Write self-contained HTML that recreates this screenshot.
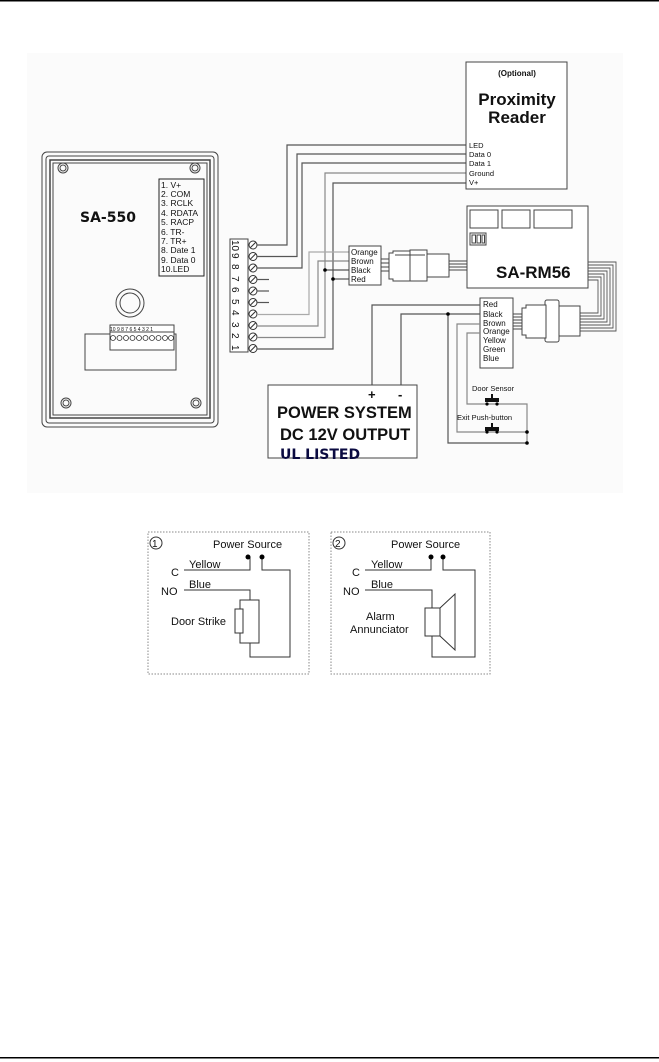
<!DOCTYPE html>
<html><head><meta charset="utf-8"><style>
html,body{margin:0;padding:0;background:#fff;}
svg{display:block;}
text{font-family:"Liberation Sans",sans-serif;fill:#111;}
</style></head><body>
<svg width="659" height="1062" viewBox="0 0 659 1062" xmlns="http://www.w3.org/2000/svg">
<rect x="0" y="0" width="659" height="1.5" fill="#000"/>
<rect x="0" y="1057" width="659" height="1.5" fill="#000"/>
<rect x="27" y="53" width="596" height="440" fill="#fbfbfb"/>
<g fill="none" stroke="#444" stroke-width="1">
<rect x="42" y="152" width="176" height="275" rx="5"/>
<rect x="46" y="156" width="168" height="267" rx="3"/>
<rect x="50" y="160" width="160" height="258" stroke-width="1.5"/>
<rect x="53" y="163" width="154" height="252"/>
<circle cx="63" cy="168" r="5"/><circle cx="63" cy="168" r="3"/>
<circle cx="195" cy="168" r="5"/><circle cx="195" cy="168" r="3"/>
<circle cx="66" cy="403" r="5"/><circle cx="66" cy="403" r="3"/>
<circle cx="196" cy="403" r="5"/><circle cx="196" cy="403" r="3"/>
<rect x="159" y="179" width="45" height="97" stroke="#222"/>
<circle cx="130" cy="303" r="14"/><circle cx="130" cy="303" r="10"/>
<rect x="85" y="334" width="91" height="36"/>
<rect x="110" y="325" width="64" height="25" fill="#fff"/>
<line x1="110" y1="332" x2="174" y2="332"/>
</g>
<g fill="none" stroke="#333" stroke-width="0.8">
<circle cx="113" cy="338" r="2.5"/><circle cx="119.5" cy="338" r="2.5"/><circle cx="126" cy="338" r="2.5"/><circle cx="132.5" cy="338" r="2.5"/><circle cx="139" cy="338" r="2.5"/><circle cx="145.5" cy="338" r="2.5"/><circle cx="152" cy="338" r="2.5"/><circle cx="158.5" cy="338" r="2.5"/><circle cx="165" cy="338" r="2.5"/><circle cx="171" cy="338" r="2.5"/>
</g>
<text x="110" y="331" font-size="5">10 9 8 7 6 5 4 3 2 1</text>
<text x="80" y="222" font-size="14" font-weight="bold" style="font-family:'DejaVu Sans',sans-serif">SA-550</text>
<g font-size="8.5">
<text x="161" y="188">1.  V+</text><text x="161" y="197">2.  COM</text><text x="161" y="206">3.  RCLK</text><text x="161" y="216">4.  RDATA</text><text x="161" y="225">5.  RACP</text><text x="161" y="235">6.  TR-</text><text x="161" y="244">7.  TR+</text><text x="161" y="253">8.  Date 1</text><text x="161" y="263">9.  Data 0</text><text x="161" y="272">10.LED</text>
</g>
<rect x="230" y="239" width="18" height="113" fill="#fff" stroke="#444"/>
<g font-size="10" transform="rotate(90)">
<text x="240" y="-232">10</text><text x="253" y="-232">9</text><text x="264" y="-232">8</text><text x="276" y="-232">7</text><text x="287" y="-232">6</text><text x="299" y="-232">5</text><text x="310" y="-232">4</text><text x="322" y="-232">3</text><text x="333" y="-232">2</text><text x="345" y="-232">1</text>
</g>
<g fill="#fff" stroke="#333" stroke-width="1">
<g id="sc"><circle cx="253" cy="245" r="4"/><line x1="250" y1="248" x2="256" y2="242"/></g>
<use href="#sc" y="11.5"/><use href="#sc" y="23"/><use href="#sc" y="34.5"/><use href="#sc" y="46"/><use href="#sc" y="57.5"/><use href="#sc" y="69"/><use href="#sc" y="80.5"/><use href="#sc" y="92"/><use href="#sc" y="103.5"/>
</g>
<g fill="none" stroke="#555" stroke-width="1.2">
<polyline points="257,245 287,245 287,145 466,145"/>
<polyline points="257,256.5 297,256.5 297,154 466,154"/>
<polyline points="257,268 302,268 302,163 466,163"/>
<polyline points="257,337.5 325,337.5 325,173 466,173" stroke="#888"/>
<polyline points="257,349 333,349 333,183 466,183"/>
<polyline points="257,326 318,326 318,261 349,261" stroke="#888"/>
<polyline points="257,314.5 309,314.5 309,252 349,252" stroke="#aaa"/>
<line x1="257" y1="279.5" x2="269" y2="279.5"/><line x1="257" y1="291" x2="269" y2="291"/><line x1="257" y1="302.5" x2="269" y2="302.5"/>
<line x1="325" y1="270" x2="349" y2="270"/><line x1="333" y1="279" x2="349" y2="279"/>
</g>
<circle cx="325" cy="270" r="1.8" fill="#000"/><circle cx="333" cy="279" r="1.8" fill="#000"/>
<rect x="349" y="246" width="32" height="39" fill="#fff" stroke="#444"/>
<g font-size="8"><text x="351" y="255">Orange</text><text x="351" y="264">Brown</text><text x="351" y="273">Black</text><text x="351" y="282">Red</text></g>
<g stroke="#444" fill="none">
<line x1="381" y1="259" x2="390" y2="259"/><line x1="381" y1="263" x2="390" y2="263"/><line x1="381" y1="267" x2="390" y2="267"/><line x1="381" y1="271" x2="390" y2="271"/>
<path d="M389,253 h4 v-2 h20 v30 h-20 v-2 h-4 z" fill="#fff"/>
<rect x="410" y="250" width="17" height="31" fill="#fff"/>
<line x1="395" y1="255" x2="425" y2="255"/>
<rect x="427" y="254" width="22" height="23" fill="#fff"/>
<line x1="449" y1="261" x2="467" y2="261"/><line x1="449" y1="264" x2="467" y2="264"/><line x1="449" y1="267" x2="467" y2="267"/><line x1="449" y1="270" x2="467" y2="270"/>
</g>
<rect x="466" y="62" width="101" height="127" fill="#fff" stroke="#444"/>
<text x="517" y="76" font-size="8" font-weight="bold" text-anchor="middle">(Optional)</text>
<text x="517" y="105" font-size="17" font-weight="bold" text-anchor="middle">Proximity</text>
<text x="517" y="123" font-size="17" font-weight="bold" text-anchor="middle">Reader</text>
<g font-size="7.5"><text x="469" y="148">LED</text><text x="469" y="157">Data 0</text><text x="469" y="166">Data 1</text><text x="469" y="176">Ground</text><text x="469" y="185">V+</text></g>
<rect x="467" y="206" width="121" height="82" fill="#fff" stroke="#444"/>
<g fill="none" stroke="#444"><rect x="470" y="210" width="28" height="18"/><rect x="502" y="210" width="28" height="18"/><rect x="534" y="210" width="38" height="18"/><rect x="470" y="233" width="16" height="12"/><rect x="472" y="235" width="3.5" height="8"/><rect x="477" y="235" width="3.5" height="8"/><rect x="482" y="235" width="2.5" height="8"/></g>
<text x="496" y="278" font-size="17" font-weight="bold">SA-RM56</text>
<g fill="none" stroke="#555" stroke-width="0.9">
<polyline points="588,262 616,262 616,331 580,331"/>
<polyline points="588,265 613,265 613,328 580,328"/>
<polyline points="588,268 610,268 610,325 580,325"/>
<polyline points="588,271 607,271 607,322 580,322"/>
<polyline points="588,274 604,274 604,319 580,319"/>
<polyline points="588,277 601,277 601,316 580,316"/>
<polyline points="588,280 598,280 598,313 580,313"/>
</g>
<g stroke="#444" fill="#fff">
<rect x="558" y="306" width="22" height="30"/>
<rect x="545" y="300" width="14" height="42" rx="2"/>
<path d="M522,308 h4 v-3 h20 v33 h-20 v-3 h-4 z"/>
<g fill="none"><line x1="513" y1="314" x2="522" y2="314"/><line x1="513" y1="317" x2="522" y2="317"/><line x1="513" y1="320" x2="522" y2="320"/><line x1="513" y1="323" x2="522" y2="323"/><line x1="513" y1="326" x2="522" y2="326"/><line x1="513" y1="329" x2="522" y2="329"/></g>
</g>
<rect x="480" y="298" width="33" height="70" fill="#fff" stroke="#444"/>
<g font-size="8"><text x="483" y="307">Red</text><text x="483" y="317">Black</text><text x="483" y="326">Brown</text><text x="483" y="334">Orange</text><text x="483" y="343">Yellow</text><text x="483" y="352">Green</text><text x="483" y="361">Blue</text></g>
<g fill="none" stroke="#555" stroke-width="1.2">
<polyline points="480,305 372,305 372,385"/>
<polyline points="480,314 401,314 401,385"/>
<polyline points="448,314 448,443 527,443"/>
<polyline points="480,324 457,324 457,432 527,432" stroke="#888"/>
<polyline points="480,333 467,333 467,404 527,404 527,443" stroke="#888"/>
</g>
<circle cx="448" cy="314" r="1.8" fill="#000"/><circle cx="527" cy="432" r="1.8" fill="#000"/><circle cx="527" cy="443" r="1.8" fill="#000"/>
<rect x="485" y="398" width="14" height="4" fill="#111"/><rect x="491" y="394" width="2" height="4" fill="#111"/>
<circle cx="487" cy="404" r="1.6" fill="#000"/><circle cx="497" cy="404" r="1.6" fill="#000"/>
<rect x="485" y="427" width="14" height="4" fill="#111"/><rect x="491" y="423" width="2" height="4" fill="#111"/>
<circle cx="487" cy="432" r="1.6" fill="#000"/><circle cx="497" cy="432" r="1.6" fill="#000"/>
<text x="472" y="391" font-size="7.5">Door Sensor</text>
<text x="457" y="420" font-size="7.5">Exit Push-button</text>
<rect x="268" y="385" width="149" height="73" fill="#fff" stroke="#444"/>
<text x="368" y="399" font-size="13" font-weight="bold">+</text><text x="398" y="399" font-size="13" font-weight="bold">-</text>
<text x="277" y="418" font-size="16.5" font-weight="bold">POWER SYSTEM</text>
<text x="280" y="440" font-size="16.5" font-weight="bold">DC 12V OUTPUT</text>
<text x="280" y="459" font-size="14" font-weight="bold" style="font-family:'DejaVu Sans',sans-serif;fill:#0a0a40">UL LISTED</text>
<g fill="none" stroke="#888" stroke-dasharray="1.5,1.5"><rect x="148" y="532" width="161" height="142"/><rect x="331" y="532" width="159" height="142"/></g>
<g fill="none" stroke="#333" stroke-width="1">
<circle cx="156" cy="543" r="6"/><circle cx="339" cy="543" r="6"/>
<polyline points="184,570 250,570 250,557"/>
<polyline points="262,557 262,570 290,570 290,657 250,657 250,643"/>
<polyline points="184,590 250,590 250,600"/>
<rect x="240" y="600" width="19" height="43"/><rect x="235" y="609" width="8" height="24" fill="#fff"/>
<polyline points="365,570 431,570 431,557"/>
<polyline points="443,557 443,570 475,570 475,657 432,657 432,636"/>
<polyline points="365,590 432,590 432,608"/>
<rect x="425" y="608" width="15" height="28"/>
<polygon points="440,608 455,594 455,650 440,636"/>
</g>
<g fill="#000"><circle cx="248" cy="557" r="2.5"/><circle cx="262" cy="557" r="2.5"/><circle cx="431" cy="557" r="2.5"/><circle cx="443" cy="557" r="2.5"/></g>
<g font-size="11" style="font-family:'DejaVu Sans',sans-serif">
<text x="152" y="547" font-size="10">1</text><text x="335" y="547" font-size="10">2</text>
<text x="213" y="548">Power Source</text><text x="391" y="548">Power Source</text>
<text x="171" y="576">C</text><text x="189" y="568">Yellow</text>
<text x="161" y="595">NO</text><text x="189" y="588">Blue</text>
<text x="171" y="625">Door Strike</text>
<text x="352" y="576">C</text><text x="371" y="568">Yellow</text>
<text x="343" y="595">NO</text><text x="371" y="588">Blue</text>
<text x="366" y="620">Alarm</text><text x="350" y="633">Annunciator</text>
</g>
</svg>
</body></html>
